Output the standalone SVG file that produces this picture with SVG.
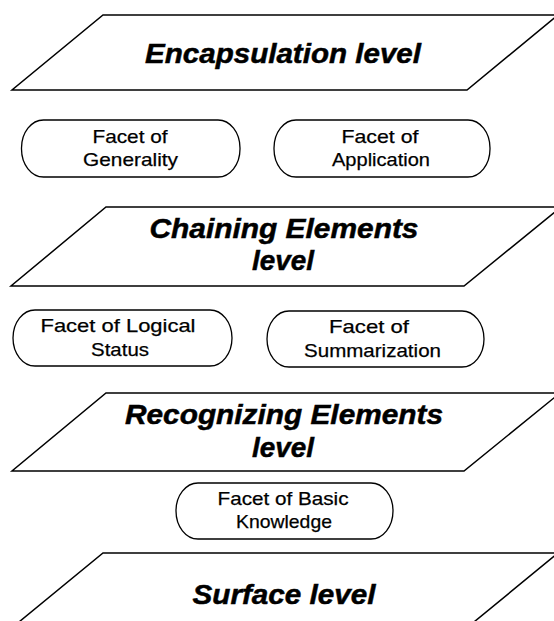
<svg xmlns="http://www.w3.org/2000/svg" width="554" height="621" viewBox="0 0 554 621">
<style>
.lvl{fill:#fff;stroke:#000;stroke-width:1.5;stroke-linejoin:miter}
.pill{fill:#fff;stroke:#000;stroke-width:1.3}
.h{font-family:"Liberation Sans",Arial,sans-serif;font-weight:bold;font-style:italic;font-size:28px;fill:#000;stroke:#000;stroke-width:0.5;text-anchor:middle}
.t{font-family:"Liberation Sans",Arial,sans-serif;font-size:19px;fill:#000;stroke:#000;stroke-width:0.25;text-anchor:middle}
</style>
<rect width="554" height="621" fill="#fff"/>
<g id="connectors"/>
<g id="encapsulation-level">
<polygon class="lvl" points="103,15 558,15 467,90 12,90"/>
<text class="h" x="283" y="63" textLength="276" lengthAdjust="spacingAndGlyphs">Encapsulation level</text>
</g>
<g id="facet-generality">
<rect class="pill" x="21.5" y="120" width="218.5" height="57" rx="22" ry="28"/>
<text class="t" x="130" y="143" textLength="75" lengthAdjust="spacingAndGlyphs">Facet of</text>
<text class="t" x="130.5" y="166" textLength="95" lengthAdjust="spacingAndGlyphs">Generality</text>
</g>
<g id="facet-application">
<rect class="pill" x="274" y="120" width="216" height="57" rx="22" ry="28"/>
<text class="t" x="380" y="143" textLength="77" lengthAdjust="spacingAndGlyphs">Facet of</text>
<text class="t" x="381" y="166" textLength="98" lengthAdjust="spacingAndGlyphs">Application</text>
</g>
<g id="chaining-level">
<polygon class="lvl" points="106,207 561,207 464,286 11,286"/>
<text class="h" x="284" y="238" textLength="269" lengthAdjust="spacingAndGlyphs">Chaining Elements</text>
<text class="h" x="283" y="270" textLength="62" lengthAdjust="spacingAndGlyphs">level</text>
</g>
<g id="facet-logical-status">
<rect class="pill" x="13" y="310" width="219" height="56" rx="22" ry="28"/>
<text class="t" x="118" y="332" textLength="155" lengthAdjust="spacingAndGlyphs">Facet of Logical</text>
<text class="t" x="120" y="356" textLength="58" lengthAdjust="spacingAndGlyphs">Status</text>
</g>
<g id="facet-summarization">
<rect class="pill" x="267" y="311" width="217" height="56" rx="22" ry="28"/>
<text class="t" x="369" y="333" textLength="80" lengthAdjust="spacingAndGlyphs">Facet of</text>
<text class="t" x="372.5" y="357" textLength="137" lengthAdjust="spacingAndGlyphs">Summarization</text>
</g>
<g id="recognizing-level">
<polygon class="lvl" points="106,393 560,393 464,471 12,471"/>
<text class="h" x="284" y="424" textLength="318" lengthAdjust="spacingAndGlyphs">Recognizing Elements</text>
<text class="h" x="283" y="457" textLength="62" lengthAdjust="spacingAndGlyphs">level</text>
</g>
<g id="facet-basic-knowledge">
<rect class="pill" x="176" y="483" width="217" height="56" rx="22" ry="28"/>
<text class="t" x="283" y="505" textLength="131" lengthAdjust="spacingAndGlyphs">Facet of Basic</text>
<text class="t" x="284" y="528" textLength="96" lengthAdjust="spacingAndGlyphs">Knowledge</text>
</g>
<g id="surface-level">
<polygon class="lvl" points="103,553 558,553 463,631 8,631"/>
<text class="h" x="284" y="604" textLength="183" lengthAdjust="spacingAndGlyphs">Surface level</text>
</g>
</svg>
